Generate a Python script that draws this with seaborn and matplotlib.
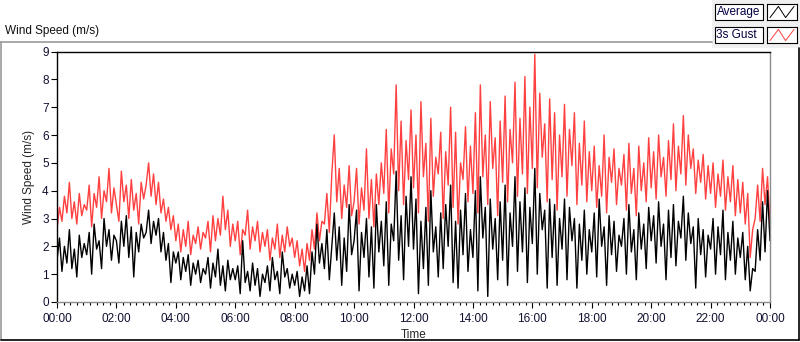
import numpy as np
import pandas as pd
import seaborn as sns
import matplotlib.pyplot as plt
from matplotlib.lines import Line2D
from matplotlib.patches import Rectangle
from matplotlib.ticker import FixedLocator, FuncFormatter

# 3s gust, one value every 5 minutes (12 per hour)
gust = [
    2.6, 3.4, 2.9, 3.8, 3.2, 4.3, 3.0, 3.6, 2.8, 3.9, 3.1, 3.5,
    3.3, 4.2, 2.7, 3.9, 3.4, 4.5, 3.0, 4.0, 3.6, 4.8, 3.2, 4.1,
    3.5, 2.9, 4.7, 3.6, 4.2, 3.0, 4.4, 3.3, 3.9, 2.8, 4.3, 3.7,
    4.2, 5.0, 3.8, 4.6, 3.5, 4.3, 3.2, 3.7, 2.9, 3.4, 2.6, 3.1,
    2.2, 2.8, 1.8, 2.6, 2.0, 2.9, 1.7, 2.4, 2.1, 2.7, 1.9, 2.5,
    2.3, 2.9, 1.8, 3.1, 2.2, 3.0, 2.4, 3.8, 2.6, 3.3, 2.0, 2.8,
    2.2, 2.9, 1.7, 2.6, 2.4, 3.3, 1.9, 2.7, 2.2, 2.9, 1.8, 2.5,
    2.0, 2.6, 1.5, 2.3, 1.9, 2.8, 1.6, 2.4, 1.8, 2.7, 2.0, 2.3,
    1.6, 2.2, 1.3, 1.9, 1.1, 2.1, 1.5, 2.6, 1.9, 3.2, 2.2, 2.9,
    2.8, 3.9, 2.5, 4.6, 6.0, 3.6, 4.8, 3.0, 4.2, 3.4, 4.9, 3.1,
    3.6, 4.8, 2.8, 4.1, 3.3, 5.5, 3.0, 4.4, 2.7, 4.6, 3.5, 5.0,
    3.9, 6.2, 3.2, 5.5, 4.6, 7.8, 4.0, 6.5, 3.5, 5.8, 4.4, 6.9,
    4.1, 6.0, 3.2, 7.2, 4.5, 5.7, 2.9, 6.6, 3.8, 5.2, 4.6, 6.1,
    3.0, 5.4, 4.2, 7.0, 3.4, 6.1, 2.8, 5.0, 4.4, 6.3, 3.6, 5.6,
    3.9, 6.8, 3.2, 7.8, 4.5, 6.0, 3.5, 7.2, 4.8, 5.9, 3.1, 6.5,
    4.3, 7.4, 3.6, 6.2, 5.0, 7.9, 3.8, 6.6, 4.6, 8.1, 3.9, 7.0,
    4.8, 8.9, 4.1, 7.5, 5.2, 6.4, 3.6, 7.3, 4.4, 6.8, 3.3, 6.0,
    4.5, 7.1, 3.8, 6.2, 4.9, 6.8, 3.5, 5.7, 4.2, 6.5, 3.6, 5.4,
    4.0, 5.6, 3.4, 4.9, 3.8, 6.0, 3.2, 5.2, 4.3, 5.5, 3.5, 4.8,
    4.2, 5.3, 3.3, 5.7, 3.9, 4.8, 3.1, 5.6, 4.0, 5.0, 3.6, 5.9,
    4.1, 5.4, 3.7, 6.0, 4.5, 5.2, 3.8, 5.8, 4.4, 6.4, 4.0, 5.6,
    4.6, 6.7, 4.2, 6.0, 4.8, 5.5, 3.9, 5.1, 4.3, 5.3, 3.7, 4.9,
    3.9, 5.0, 3.4, 4.6, 3.8, 5.1, 3.3, 4.5, 3.6, 4.9, 3.1, 4.4,
    3.2, 4.3, 2.8, 3.9, 1.6, 2.6, 3.0, 4.2, 2.9, 4.8, 3.5, 4.5,
    2.8,
]

# average wind speed, same timestamps
average = [
    1.5, 2.3, 1.1, 2.0, 1.4, 2.6, 1.2, 1.9, 0.9, 2.4, 1.6, 2.1,
    1.7, 2.5, 1.0, 2.8, 1.9, 2.2, 1.2, 3.0, 2.0, 2.6, 1.5, 2.4,
    2.2, 1.4, 2.9, 2.0, 3.1, 1.6, 2.7, 0.9, 2.5, 1.8, 2.8, 2.3,
    2.5, 3.3, 2.1, 2.9, 2.4, 3.0, 1.8, 2.5, 1.5, 2.1, 0.7, 1.8,
    1.4, 1.8, 0.8, 1.6, 1.1, 1.7, 0.6, 1.4, 1.0, 1.5, 0.7, 1.2,
    1.0, 1.6, 0.5, 1.4, 0.9, 1.9, 0.6, 1.3, 0.4, 1.5, 0.8, 1.2,
    0.8, 1.3, 0.3, 2.2, 0.7, 1.1, 0.4, 1.4, 0.6, 1.2, 0.2, 1.0,
    0.7, 1.3, 0.4, 1.6, 0.8, 1.1, 0.3, 1.8, 0.9, 1.2, 0.5, 1.0,
    0.6, 1.1, 0.2, 0.9, 0.4, 1.3, 0.3, 1.8, 1.0, 2.8, 1.4, 2.1,
    1.2, 2.6, 0.8, 2.0, 3.2, 1.5, 2.7, 0.6, 2.3, 1.1, 3.5, 1.7,
    2.2, 3.3, 0.4, 2.5, 1.6, 3.0, 0.9, 2.7, 0.5, 3.5, 1.8, 2.9,
    1.3, 3.6, 0.6, 2.8, 2.2, 4.7, 1.5, 3.1, 0.8, 3.8, 2.0, 4.5,
    1.9, 3.7, 0.3, 2.9, 1.2, 3.4, 0.6, 4.0, 1.8, 2.7, 0.9, 3.2,
    1.2, 3.5, 2.0, 4.2, 0.7, 2.9, 0.5, 3.3, 1.7, 3.9, 1.1, 2.6,
    1.6, 4.0, 0.4, 4.5, 2.3, 3.4, 0.2, 3.7, 1.9, 3.0, 0.8, 3.6,
    1.5, 4.2, 0.6, 3.2, 2.0, 4.5, 1.1, 3.6, 1.8, 4.1, 0.7, 3.4,
    2.1, 4.8, 1.0, 3.9, 2.6, 3.3, 0.5, 3.7, 1.6, 3.5, 0.6, 3.0,
    1.9, 3.7, 0.8, 3.4, 2.2, 3.0, 0.5, 2.8, 1.5, 3.3, 1.0, 2.6,
    1.8, 3.2, 0.9, 3.7, 2.0, 2.7, 0.6, 3.1, 1.7, 2.9, 1.1, 2.4,
    2.0, 3.0, 1.0, 3.5, 1.8, 2.6, 0.8, 3.2, 1.9, 2.8, 1.2, 3.4,
    2.2, 3.1, 1.4, 3.6, 2.0, 2.8, 0.8, 3.3, 1.6, 3.5, 1.3, 2.9,
    2.3, 3.8, 1.5, 3.2, 2.1, 2.7, 0.5, 3.0, 1.7, 2.6, 0.9, 2.4,
    1.9, 3.0, 1.0, 2.7, 1.7, 3.3, 0.8, 2.5, 1.5, 2.9, 1.0, 2.3,
    1.6, 2.5, 0.8, 2.0, 0.4, 1.2, 1.1, 2.6, 1.5, 3.6, 1.8, 4.0,
    2.2,
]

hours = np.arange(len(gust)) / 12.0
y_ticks = list(range(0, 10))
x_major = list(range(0, 25, 2))

sns.set_style("white")
plt.rcParams["font.family"] = ["Liberation Sans", "DejaVu Sans"]
plt.rcParams["font.size"] = 8

fig = plt.figure(figsize=(8, 3.42), dpi=100)
fig.patch.set_facecolor("white")
ax = fig.add_axes([57 / 800, 1 - 302 / 342, 713 / 800, 250.5 / 342])

df = pd.DataFrame({"hours": hours, "gust": gust, "average": average})
sns.lineplot(data=df, x="hours", y="gust", color="#ff4040", linewidth=1.0, ax=ax)
sns.lineplot(data=df, x="hours", y="average", color="black", linewidth=1.0, ax=ax)

ax.set_xlim(0, 24)
ax.set_ylim(0, 9)
ax.yaxis.set_major_locator(FixedLocator(y_ticks))
ax.xaxis.set_major_locator(FixedLocator(x_major))
ax.xaxis.set_minor_locator(FixedLocator(np.arange(0, 24.01, 2 / 9)))
ax.xaxis.set_major_formatter(FuncFormatter(lambda v, p: f"{int(round(v)) % 24:02d}:00"))
ax.tick_params(axis="both", which="major", direction="out", length=4, width=0.8,
               color="black", labelcolor="#101030", labelsize=8.5, pad=2,
               bottom=True, left=True)
ax.tick_params(axis="x", which="major", pad=4)
ax.tick_params(axis="x", which="minor", direction="out", length=2.2, width=0.8,
               color="black", bottom=True)
ax.set_xlabel("Time", fontsize=8.5, labelpad=3)
ax.set_ylabel("Wind Speed (m/s)", fontsize=8.5, labelpad=5)

for side in ["top", "left"]:
    ax.spines[side].set_color("black")
    ax.spines[side].set_linewidth(1.0)
for side in ["right", "bottom"]:
    ax.spines[side].set_color("#8c8c8c")
    ax.spines[side].set_linewidth(1.0)

# chart frame
H = 342.0
W = 800.0
fig.add_artist(Line2D([0, 712 / W], [1 - 42 / H, 1 - 42 / H], color="#9a9a9a", lw=1.2))
fig.add_artist(Line2D([1 / W, 1 / W], [1 - 42 / H, 1 - 340 / H], color="#9a9a9a", lw=1.2))
fig.add_artist(Line2D([1 / W, 799 / W], [1 - 340 / H, 1 - 340 / H], color="black", lw=1.2))
fig.add_artist(Line2D([799 / W, 799 / W], [1 - 48 / H, 1 - 340 / H], color="black", lw=1.2))

fig.text(5 / W, 1 - 31 / H, "Wind Speed (m/s)", fontsize=8.5, va="center", ha="left", color="#101010")

# legend panel
fig.add_artist(Rectangle((712 / W, 1 - 48 / H), 88 / W, 48 / H, facecolor="#f0f0f0",
                         edgecolor="none", transform=fig.transFigure, zorder=0.5))
for i, (name, col) in enumerate([("Average", "black"), ("3s Gust", "#ff4040")]):
    top = 4 + i * 23
    fig.add_artist(Rectangle((715 / W, 1 - (top + 16) / H), 48 / W, 16 / H, facecolor="white",
                             edgecolor="black", lw=0.8, transform=fig.transFigure, zorder=0.6))
    fig.text(716.5 / W, 1 - (top + 8) / H, name, fontsize=8.5, va="center", ha="left", color="#000040")
    iax = fig.add_axes([767 / W, 1 - (top + 16) / H, 30 / W, 16 / H])
    iax.set_zorder(5)
    iax.set_xlim(0, 1)
    iax.set_ylim(0, 1)
    iax.plot([0.1, 0.38, 0.62, 0.9], [0.15, 0.85, 0.15, 0.85], color=col, lw=0.7)
    iax.set_xticks([])
    iax.set_yticks([])
    for s in iax.spines.values():
        s.set_color("black")
        s.set_linewidth(0.8)

fig.savefig("out.png", dpi=100)
